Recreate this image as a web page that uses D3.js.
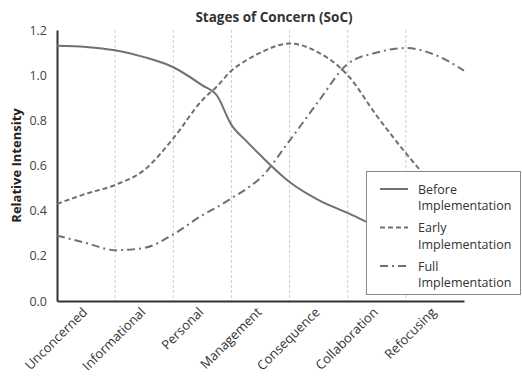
<!DOCTYPE html>
<html>
<head>
<meta charset="utf-8">
<script src="https://cdn.jsdelivr.net/npm/d3@7"></script>
<style>
  body { margin: 0; background: #fff; overflow: hidden; }
  text { font-family: "Open Sans", sans-serif; }
</style>
</head>
<body>
<div id="container"></div>
<script>
/* CONSTANTS AND GLOBALS */
const width = 522,
  height = 380,
  margin = { top: 30, right: 58, bottom: 79, left: 57 };

// categories (one band each)
const stages = ["Unconcerned", "Informational", "Personal", "Management",
  "Consequence", "Collaboration", "Refocusing"];

// positions along the axis (in bands) at which the curves were read
const stagePos = [0, 0.5, 1, 1.5, 2, 2.5, 2.75, 3, 3.25, 3.5, 4, 4.5, 5, 5.5, 6, 6.5, 7];

const beforeImpl = [1.13, 1.125, 1.11, 1.08, 1.035, 0.955, 0.91, 0.78, 0.71, 0.645, 0.527, 0.447, 0.39, 0.33, 0.29, 0.26, 0.24];
const earlyImpl  = [0.43, 0.475, 0.514, 0.58, 0.72, 0.89, 0.95, 1.02, 1.065, 1.10, 1.14, 1.10, 1.00, 0.82, 0.655, 0.51, 0.42];
const fullImpl   = [0.29, 0.257, 0.225, 0.235, 0.295, 0.38, 0.415, 0.455, 0.495, 0.545, 0.71, 0.885, 1.05, 1.10, 1.12, 1.09, 1.02];

const yTicks = [0, 0.2, 0.4, 0.6, 0.8, 1.0, 1.2];

const seriesNames = ["Before\nImplementation", "Early\nImplementation", "Full\nImplementation"];
const seriesValues = [beforeImpl, earlyImpl, fullImpl];
const seriesDash = [null, "5,3", "8,4,2,4"];

const lineColor = "#707070";

let svg, xScale, xBand, yScale;

function init() {
  svg = d3.select("#container")
    .append("svg")
    .attr("width", width)
    .attr("height", height);

  xScale = d3.scaleLinear()
    .domain([0, stages.length])
    .range([margin.left, width - margin.right]);

  xBand = d3.scaleBand()
    .domain(stages)
    .range([margin.left, width - margin.right]);

  yScale = d3.scaleLinear()
    .domain([0, 1.2])
    .range([height - margin.bottom, margin.top]);

  draw();
}

function draw() {
  // vertical gridlines between categories
  svg.selectAll(".grid")
    .data(d3.range(1, stages.length))
    .join("line")
    .attr("class", "grid")
    .attr("x1", d => xScale(d))
    .attr("x2", d => xScale(d))
    .attr("y1", yScale(1.2))
    .attr("y2", yScale(0))
    .attr("stroke", "#cfcfcf")
    .attr("stroke-width", 1)
    .attr("stroke-dasharray", "3,2");

  // title
  svg.append("text")
    .attr("x", 274)
    .attr("y", 22)
    .attr("text-anchor", "middle")
    .attr("font-size", "13.5px")
    .attr("font-weight", "bold")
    .attr("fill", "#333")
    .text("Stages of Concern (SoC)");

  // y axis label
  svg.append("text")
    .attr("transform", `translate(21, ${yScale(0.6)}) rotate(-90)`)
    .attr("text-anchor", "middle")
    .attr("font-size", "13px")
    .attr("font-weight", "bold")
    .attr("fill", "#222")
    .text("Relative Intensity");

  // y axis
  const yAxis = d3.axisLeft(yScale)
    .tickValues(yTicks)
    .tickFormat(d3.format(".1f"))
    .tickSize(0)
    .tickPadding(10);
  const gy = svg.append("g")
    .attr("transform", `translate(${margin.left}, 0)`)
    .call(yAxis);
  gy.select(".domain").attr("stroke", "#333").attr("stroke-width", 2);
  gy.selectAll("text").attr("font-size", "12.5px").attr("fill", "#444")
    .style("font-family", "Open Sans, sans-serif");

  // x axis
  const xAxis = d3.axisBottom(xBand).tickSize(0).tickPadding(0);
  const gx = svg.append("g")
    .attr("transform", `translate(0, ${height - margin.bottom})`)
    .call(xAxis);
  gx.select(".domain").attr("stroke", "#333").attr("stroke-width", 2);
  gx.selectAll("text")
    .attr("font-size", "13px")
    .attr("fill", "#333")
    .style("font-family", "Open Sans, sans-serif")
    .attr("text-anchor", "end")
    .attr("dx", "0")
    .attr("dy", "0")
    .attr("transform", "translate(2, 12) rotate(-45)");

  // lines
  const line = d3.line()
    .x((d, i) => xScale(stagePos[i]))
    .y(d => yScale(d))
    .curve(d3.curveMonotoneX);

  svg.selectAll(".series")
    .data(seriesValues)
    .join("path")
    .attr("class", "series")
    .attr("d", d => line(d))
    .attr("fill", "none")
    .attr("stroke", lineColor)
    .attr("stroke-width", 2)
    .attr("stroke-dasharray", (d, i) => seriesDash[i]);

  // legend
  const legend = svg.append("g").attr("transform", "translate(366, 171)");
  legend.append("rect")
    .attr("x", 0.5)
    .attr("y", 0.5)
    .attr("width", 154)
    .attr("height", 123)
    .attr("fill", "#fff")
    .attr("stroke", "#8a8a8a");

  const items = legend.selectAll(".item")
    .data(seriesNames)
    .join("g")
    .attr("class", "item")
    .attr("transform", (d, i) => `translate(0, ${18 + i * 38.5})`);

  items.append("line")
    .attr("x1", 14).attr("x2", 42)
    .attr("y1", 0).attr("y2", 0)
    .attr("stroke", lineColor)
    .attr("stroke-width", 2)
    .attr("stroke-dasharray", (d, i) => seriesDash[i]);

  items.append("text")
    .attr("x", 52)
    .attr("y", 4.5)
    .attr("font-size", "12.5px")
    .attr("fill", "#333")
    .selectAll("tspan")
    .data(d => d.split("\n"))
    .join("tspan")
    .attr("x", 52)
    .attr("dy", (d, i) => i === 0 ? 0 : 16.5)
    .text(d => d);
}

init();
</script>
</body>
</html>
